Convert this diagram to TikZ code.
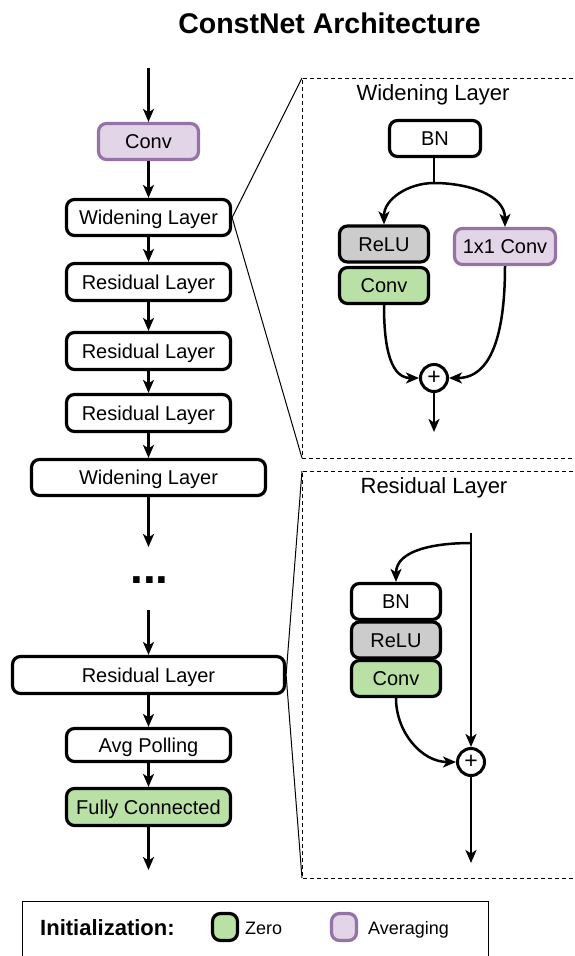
\documentclass[tikz,border=0pt]{standalone}
\usepackage{fontspec}
\setmainfont{Liberation Sans}
\usetikzlibrary{arrows.meta}
\definecolor{zfill}{HTML}{B9E0A5}
\definecolor{afill}{HTML}{E1D5E7}
\definecolor{aborder}{HTML}{9673A6}
\definecolor{gfill}{HTML}{CCCCCC}
\tikzset{
  box/.style={draw=black, line width=3.2pt, rounded corners=8pt, fill=white, inner sep=0pt,
    font=\fontsize{20}{24}\selectfont, text height=14.3pt, text depth=0pt},
  zerobox/.style={box, fill=zfill},
  avgbox/.style={box, fill=afill, draw=aborder},
  greybox/.style={box, fill=gfill},
  arr/.style={line width=2.5pt, -{Stealth[length=13pt,width=11pt,inset=3.5pt]}},
  zoomline/.style={line width=1pt},
  panel/.style={line width=1pt, dash pattern=on 4pt off 3pt},
  plusnode/.style={draw=black, circle, line width=3pt, fill=white, inner sep=0pt,
    minimum size=27pt, font=\fontsize{23}{23}\selectfont},
  ptitle/.style={anchor=base, inner sep=0pt, font=\fontsize{22}{26}\selectfont},
}
\begin{document}
\begin{tikzpicture}[x=1pt, y=-1pt]
\clip (0,0) rectangle (574,956);
\fill[white] (0,0) rectangle (574,956);

% title
\node[anchor=base, inner sep=0pt, font=\bfseries\fontsize{28.5}{32}\selectfont] (title) at (329.5,33) {ConstNet Architecture};

% left column
\coordinate (in0) at (148.5,68);
\node[avgbox, minimum width=100pt, minimum height=36pt] (conv0) at (148.5,141.5) {Conv};
\node[box, minimum width=164pt, minimum height=36pt] (wid1) at (148.5,217.5) {Widening Layer};
\node[box, minimum width=164pt, minimum height=37pt] (res1) at (148.5,282) {Residual Layer};
\node[box, minimum width=164pt, minimum height=37pt] (res2) at (148.5,351) {Residual Layer};
\node[box, minimum width=164pt, minimum height=37pt] (res3) at (148.5,413) {Residual Layer};
\node[box, minimum width=234pt, minimum height=36pt] (wid2) at (148.5,477.5) {Widening Layer};
\coordinate (gapA) at (148.5,547);
\node[anchor=base, inner sep=0pt, font=\bfseries\fontsize{46}{46}\selectfont] (dots) at (149.5,583) {...};
\coordinate (gapB) at (148.5,610);
\node[box, minimum width=272pt, minimum height=37pt] (resN) at (148.5,675) {Residual Layer};
\node[box, minimum width=164pt, minimum height=33pt] (avg) at (148.5,745) {Avg Polling};
\node[zerobox, minimum width=164pt, minimum height=37pt] (fc) at (148.5,807) {Fully Connected};
\coordinate (out0) at (148.5,870);

\draw[arr] (in0) -- (conv0.north);
\draw[arr] (conv0.south) -- (wid1.north);
\draw[arr] (wid1.south) -- (res1.north);
\draw[arr] (res1.south) -- (res2.north);
\draw[arr] (res2.south) -- (res3.north);
\draw[arr] (res3.south) -- (wid2.north);
\draw[arr] (wid2.south) -- (gapA);
\draw[arr] (gapB) -- (resN.north);
\draw[arr] (resN.south) -- (avg.north);
\draw[arr] (avg.south) -- (fc.north);
\draw[arr] (fc.south) -- (out0);

% panel 1: widening layer
\coordinate (p1tl) at (302,78);
\coordinate (p1bl) at (302,458);
\draw[panel] (580,78) -- (p1tl) -- (p1bl) -- (580,458);
\draw[zoomline] (p1tl) -- (wid1.east) -- (p1bl);
\node[ptitle] (t1) at (433,100) {Widening Layer};
\node[box, minimum width=91pt, minimum height=36pt] (bn1) at (435,138.5) {BN};
\coordinate (split1) at (434,183);
\node[greybox, minimum width=89pt, minimum height=36pt] (relu1) at (384,244) {ReLU};
\node[zerobox, minimum width=89pt, minimum height=36pt] (conv1) at (384,285.5) {Conv};
\node[avgbox, minimum width=101pt, minimum height=36pt] (c1x1) at (505,246.5) {1x1 Conv};
\node[plusnode] (plus1) at (434,378) {+};
\coordinate (out1) at (434,432);
\draw[line width=2.5pt] (434,158) -- (split1);
\draw[arr] (split1) to[out=180, in=90] (relu1.north);
\draw[arr] (split1) to[out=0, in=90] (c1x1.north);
\draw[arr] (conv1.south) to[out=-90, in=180] (plus1.west);
\draw[arr] (c1x1.south) to[out=-90, in=0] (plus1.east);
\draw[arr] (plus1.south) -- (out1);

% panel 2: residual layer
\coordinate (p2tl) at (302,471);
\coordinate (p2bl) at (302,878);
\draw[panel] (580,471) -- (p2tl) -- (p2bl) -- (580,878);
\draw[zoomline] (p2tl) -- (resN.east) -- (p2bl);
\node[ptitle] (t2) at (434,493) {Residual Layer};
\node[box, minimum width=89pt, minimum height=36pt] (bn2) at (396,601.5) {BN};
\node[greybox, minimum width=89pt, minimum height=36pt] (relu2) at (396,640) {ReLU};
\node[zerobox, minimum width=89pt, minimum height=36pt] (conv2) at (396,678.5) {Conv};
\coordinate (top2) at (471,533);
\coordinate (split2) at (471,543);
\node[plusnode] (plus2) at (471,762) {+};
\coordinate (out2) at (471,863);
\draw[arr] (top2) -- (plus2.north);
\draw[arr] (split2) to[out=180, in=90] (bn2.north);
\draw[arr] (conv2.south) to[out=-90, in=180] (plus2.west);
\draw[arr] (plus2.south) -- (out2);

% legend
\draw[line width=1pt] (22,975) -- (22,901) -- (488,901) -- (488,975);
\node[anchor=base west, inner sep=0pt, font=\bfseries\fontsize{22}{26}\selectfont] (linit) at (40,935) {Initialization:};
\node[zerobox, minimum width=25pt, minimum height=27pt] (lzero) at (225,927) {};
\node[anchor=base west, inner sep=0pt, font=\fontsize{18}{22}\selectfont] (tzero) at (245,934) {Zero};
\node[avgbox, minimum width=25pt, minimum height=27pt] (lavg) at (344,927) {};
\node[anchor=base west, inner sep=0pt, font=\fontsize{18}{22}\selectfont] (tavg) at (368,934) {Averaging};
\end{tikzpicture}
\end{document}
